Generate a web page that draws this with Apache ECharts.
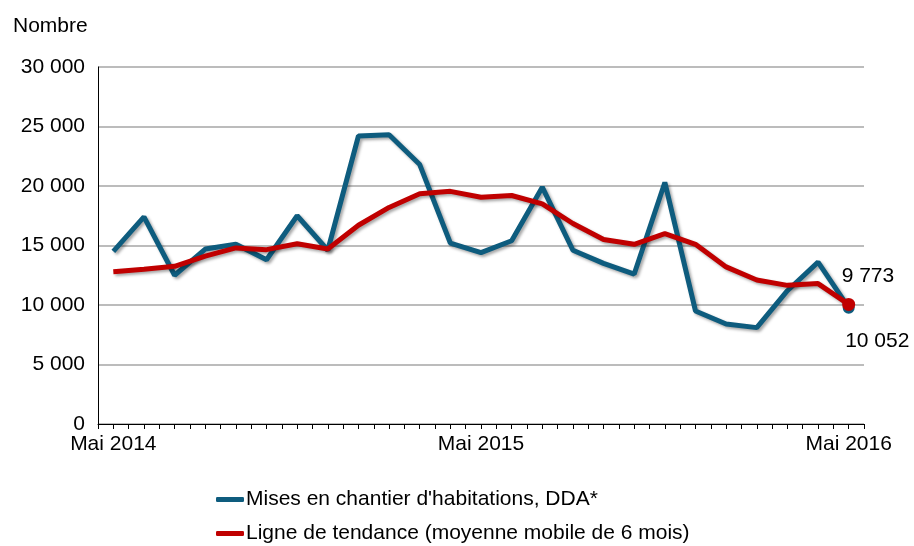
<!DOCTYPE html>
<html>
<head>
<meta charset="utf-8">
<style>
  html, body { margin: 0; padding: 0; background: #fff; }
  #chart { width: 914px; height: 546px; }
</style>
<script src="https://cdn.jsdelivr.net/npm/echarts@6/dist/echarts.min.js"></script>
</head>
<body>
<div id="chart"></div>
<script>

// mois de mai 2014 à mai 2016
const months = [
    'Mai 2014', 'Juin 2014', 'Juil 2014', 'Août 2014', 'Sept 2014', 'Oct 2014', 'Nov 2014',
    'Déc 2014', 'Janv 2015', 'Févr 2015', 'Mars 2015', 'Avr 2015', 'Mai 2015', 'Juin 2015',
    'Juil 2015', 'Août 2015', 'Sept 2015', 'Oct 2015', 'Nov 2015', 'Déc 2015', 'Janv 2016',
    'Févr 2016', 'Mars 2016', 'Avr 2016', 'Mai 2016',
];

const shownMonths = ['Mai 2014', 'Mai 2015', 'Mai 2016'];

const mises = [
    14500, 17400, 12500, 14700, 15100, 13800, 17500, 14600, 24200, 24300, 21800, 15200, 14400,
    15400, 19900, 14600, 13500, 12600, 20300, 9500, 8400, 8100, 11200, 13600, 9773,
];

const tendance = [
    12800, 13000, 13250, 14100, 14800, 14650, 15150, 14700, 16700, 18200, 19350, 19550, 19050,
    19200, 18500, 16850, 15500, 15100, 16000, 15100, 13200, 12100, 11650, 11800, 10052,
];

const yTicks = [0, 5000, 10000, 15000, 20000, 25000, 30000];

const seriesNames = [
    "Mises en chantier d'habitations, DDA*",
    'Ligne de tendance (moyenne mobile de 6 mois)',
];

const fmt = (v) => String(v).replace(/\B(?=(\d{3})+(?!\d))/g, ' ');

const font = 'Liberation Sans, Arial, sans-serif';

const last = months.length - 1;

const toPoints = (values, endLabel) => values.map((v, i) => {
    if (i !== last) {
        return [i, v];
    }
    return {
        value: [i, v],
        label: endLabel,
    };
});

const chart = echarts.init(document.getElementById('chart'));

chart.setOption({
    animation: false,
    textStyle: { fontFamily: font },
    grid: {
        left: 98,
        right: 50,
        top: 67,
        bottom: 122,
        containLabel: false,
    },
    graphic: [
        {
            type: 'text',
            left: 13,
            top: 16,
            style: {
                text: 'Nombre',
                fontSize: 21,
                fontFamily: font,
                fill: '#000',
            },
        },
    ],
    legend: {
        orient: 'vertical',
        left: 216,
        top: 489,
        height: 80,
        padding: 0,
        itemWidth: 28,
        itemHeight: 5,
        itemGap: 13,
        icon: 'roundRect',
        textStyle: { fontSize: 21, color: '#000', fontFamily: font, padding: [0, 0, 0, -3] },
        data: seriesNames,
    },
    xAxis: {
        type: 'value',
        min: -0.5,
        max: 24.5,
        interval: 0.5,
        splitLine: { show: false },
        axisLine: { lineStyle: { color: '#000', width: 1 } },
        axisTick: { show: true, length: 5, lineStyle: { color: '#000' } },
        axisLabel: {
            fontSize: 21,
            color: '#000',
            margin: 10,
            showMinLabel: true,
            showMaxLabel: true,
            formatter: (v) => {
                const m = months[v];
                return Number.isInteger(v) && shownMonths.includes(m) ? m : '';
            },
        },
    },
    yAxis: {
        type: 'value',
        min: yTicks[0],
        max: yTicks[yTicks.length - 1],
        interval: 5000,
        axisLine: { show: true, onZero: false, lineStyle: { color: '#000' } },
        axisTick: { show: false },
        splitLine: { lineStyle: { color: '#a6a6a6', width: 1.5 } },
        axisLabel: {
            fontSize: 21,
            color: '#000',
            margin: 13,
            formatter: (v) => fmt(v),
        },
    },
    series: [
        {
            name: seriesNames[0],
            type: 'line',
            data: toPoints(mises, {
                show: true,
                position: 'right',
                offset: [-18, -31],
                fontSize: 21,
                color: '#000',
                formatter: (p) => fmt(p.value[1]),
            }),
            symbol: 'circle',
            symbolSize: (v, p) => (p.dataIndex === last ? 12 : 0),
            itemStyle: { color: '#0e5c7e' },
            lineStyle: {
                color: '#0e5c7e',
                width: 5,
                shadowColor: 'rgba(0,0,0,0.35)',
                shadowBlur: 3,
                shadowOffsetX: 2,
                shadowOffsetY: 2,
            },
            z: 2,
        },
        {
            name: seriesNames[1],
            type: 'line',
            data: toPoints(tendance, {
                show: true,
                position: 'right',
                offset: [-15, 37],
                fontSize: 21,
                color: '#000',
                formatter: (p) => fmt(p.value[1]),
            }),
            symbol: 'circle',
            symbolSize: (v, p) => (p.dataIndex === last ? 13 : 0),
            itemStyle: { color: '#c00000' },
            lineStyle: {
                color: '#c00000',
                width: 5,
                shadowColor: 'rgba(0,0,0,0.35)',
                shadowBlur: 3,
                shadowOffsetX: 2,
                shadowOffsetY: 2,
            },
            z: 3,
        },
    ],
});

</script>
</body>
</html>
